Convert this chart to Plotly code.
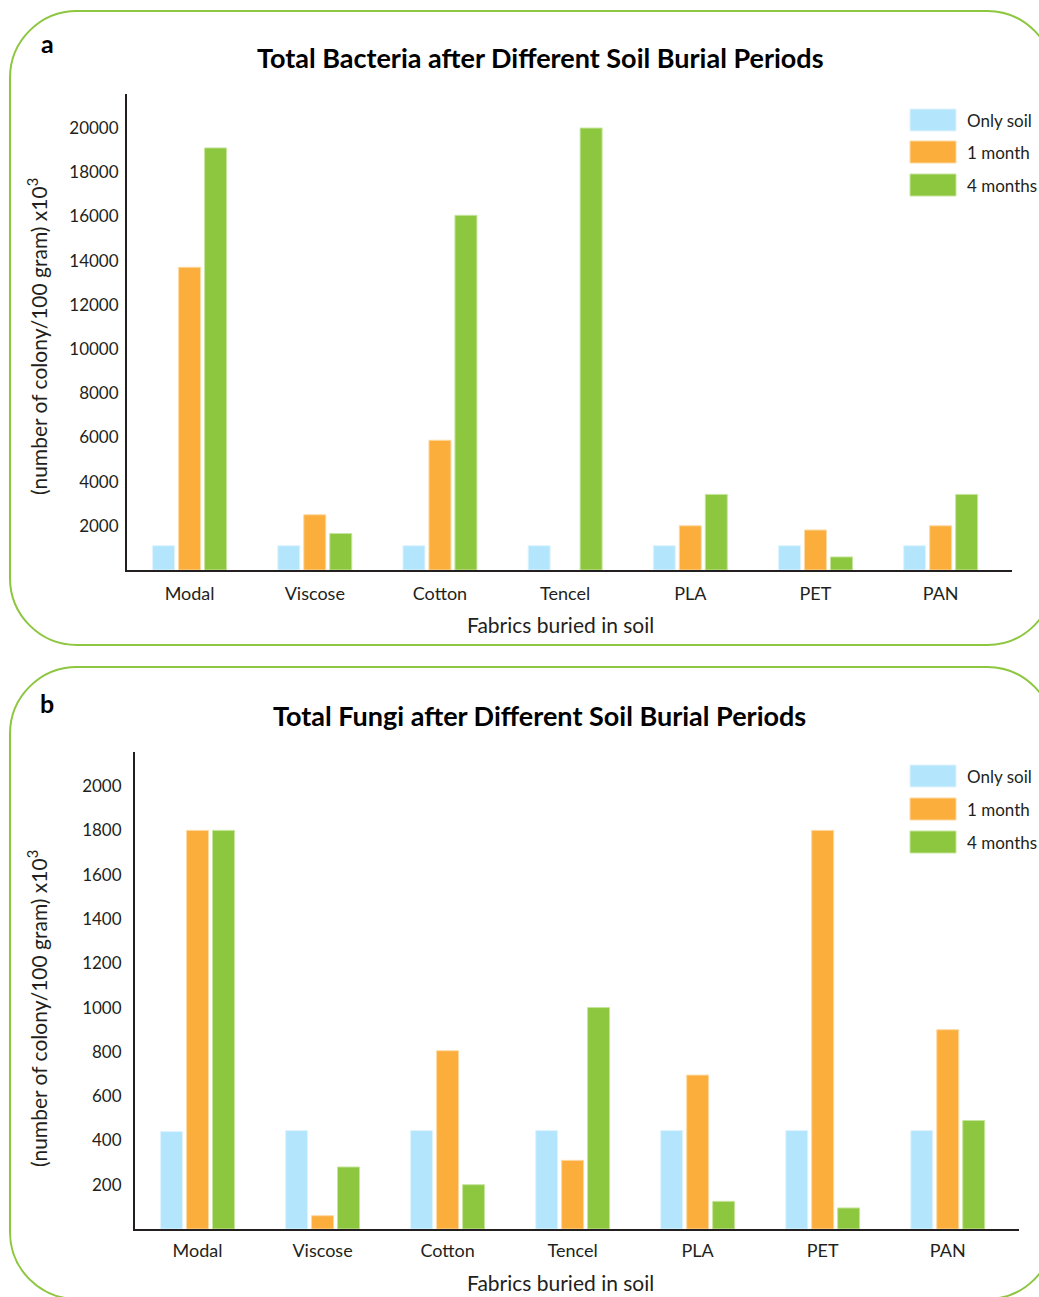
import plotly.graph_objects as go

# ---- data -------------------------------------------------------------
fabrics = ["Modal", "Viscose", "Cotton", "Tencel", "PLA", "PET", "PAN"]
series_names = ["Only soil", "1 month", "4 months"]
series_colors = ["#b3e5fc", "#fbae3c", "#8dc63f"]
edge_colors = ["#dff4fe", "#fdd9a3", "#c6e59c"]

bacteria_only_soil = [1100, 1100, 1100, 1100, 1100, 1100, 1100]
bacteria_1_month = [13700, 2500, 5870, None, 2000, 1810, 2000]
bacteria_4_months = [19100, 1650, 16050, 20000, 3420, 590, 3420]

fungi_only_soil = [440, 445, 445, 445, 445, 445, 445]
fungi_1_month = [1800, 60, 805, 310, 695, 1800, 900]
fungi_4_months = [1800, 280, 200, 1000, 125, 95, 490]

bacteria_ticks = [2000, 4000, 6000, 8000, 10000, 12000, 14000, 16000, 18000, 20000]
fungi_ticks = [200, 400, 600, 800, 1000, 1200, 1400, 1600, 1800, 2000]

# ---- page geometry (pixels) --------------------------------------------
W, H = 1039, 1297
FONT = "Lato"
TXT = "#231f20"


def fx(x):
    return x / W


def fy(y):
    return 1 - y / H


fig = go.Figure()

panels = [
    dict(xa="x", ya="y", vals=[bacteria_only_soil, bacteria_1_month, bacteria_4_months]),
    dict(xa="x2", ya="y2", vals=[fungi_only_soil, fungi_1_month, fungi_4_months]),
]
for p in panels:
    for name, color, edge, vals in zip(series_names, series_colors, edge_colors, p["vals"]):
        fig.add_trace(go.Bar(
            x=fabrics, y=vals, name=name, xaxis=p["xa"], yaxis=p["ya"],
            marker=dict(color=color, line=dict(color=edge, width=1)),
            showlegend=False,
        ))

axis_common = dict(
    showline=True, linecolor="#231f20", linewidth=2, showgrid=False,
    zeroline=False, ticks="", tickformat="d",
)
xtick_font = dict(family=FONT, size=18, color=TXT)
ytick_font = dict(family=FONT, size=17, color=TXT)

fig.update_layout(
    width=W, height=H,
    margin=dict(l=0, r=0, t=0, b=0),
    paper_bgcolor="white", plot_bgcolor="white",
    barmode="group", bargap=0.377, bargroupgap=0.154,
    font=dict(family=FONT, color=TXT),
    xaxis=dict(domain=[fx(127), fx(1012)], anchor="y", range=[-0.5, 6.57],
               ticklabelstandoff=6, tickfont=xtick_font, **axis_common),
    yaxis=dict(domain=[fy(570), fy(94)], anchor="x", range=[0, 21540],
               tickvals=bacteria_ticks, ticklabelstandoff=3, tickfont=ytick_font,
               **axis_common),
    xaxis2=dict(domain=[fx(135), fx(1019)], anchor="y2", range=[-0.5, 6.57],
                ticklabelstandoff=4, tickfont=xtick_font, **axis_common),
    yaxis2=dict(domain=[fy(1229), fy(752)], anchor="x2", range=[0, 2154],
                tickvals=fungi_ticks, ticklabelstandoff=8, tickfont=ytick_font,
                **axis_common),
)


# ---- rounded green frames ---------------------------------------------
def rounded_frame(left, top, right, bottom, r):
    k = 0.5523 * r
    pts = [
        ("M", [(left + r, top)]),
        ("L", [(right - r, top)]),
        ("C", [(right - r + k, top), (right, top + r - k), (right, top + r)]),
        ("L", [(right, bottom - r)]),
        ("C", [(right, bottom - r + k), (right - r + k, bottom), (right - r, bottom)]),
        ("L", [(left + r, bottom)]),
        ("C", [(left + r - k, bottom), (left, bottom - r + k), (left, bottom - r)]),
        ("L", [(left, top + r)]),
        ("C", [(left, top + r - k), (left + r - k, top), (left + r, top)]),
    ]
    parts = []
    for cmd, coords in pts:
        parts.append(cmd + " ".join(f"{fx(x):.5f},{fy(y):.5f}" for x, y in coords))
    return " ".join(parts) + " Z"


for box in [(10, 11, 1054, 645), (10, 667, 1054, 1299)]:
    fig.add_shape(type="path", xref="paper", yref="paper",
                  path=rounded_frame(*box, 67),
                  line=dict(color="#8dc63f", width=2), fillcolor="rgba(0,0,0,0)",
                  layer="below")

# ---- legends -----------------------------------------------------------
for tops in [(109, 141, 174), (765, 798, 831)]:
    for name, color, edge, t in zip(series_names, series_colors, edge_colors, tops):
        fig.add_shape(type="rect", xref="paper", yref="paper",
                      x0=fx(910), x1=fx(956), y0=fy(t), y1=fy(t + 22),
                      fillcolor=color, line=dict(color=edge, width=1))
        fig.add_annotation(xref="paper", yref="paper", x=fx(965), y=fy(t + 11),
                           text=name, showarrow=False, xanchor="left", yanchor="middle",
                           font=dict(family=FONT, size=17, color=TXT))

# ---- titles and labels -------------------------------------------------
texts = [
    ("a", 47, 43, 25, True, 0),
    ("b", 47, 703, 25, True, 0),
    ("Total Bacteria after Different Soil Burial Periods", 540, 57, 27, True, 0),
    ("Total Fungi after Different Soil Burial Periods", 539, 715, 27, True, 0),
    ("Fabrics buried in soil", 560, 624, 21, False, 0),
    ("Fabrics buried in soil", 560, 1282, 21, False, 0),
    ("(number of colony/100 gram) x10<sup>3</sup>", 37, 337, 21, False, -90),
    ("(number of colony/100 gram) x10<sup>3</sup>", 37, 1009, 21, False, -90),
]
for text, x, y, size, bold, angle in texts:
    fig.add_annotation(xref="paper", yref="paper", x=fx(x), y=fy(y),
                       text=f"<b>{text}</b>" if bold else text, showarrow=False,
                       xanchor="center", yanchor="middle", textangle=angle,
                       font=dict(family=FONT, size=size, color="black" if bold else TXT))

fig.write_html("out.html")
